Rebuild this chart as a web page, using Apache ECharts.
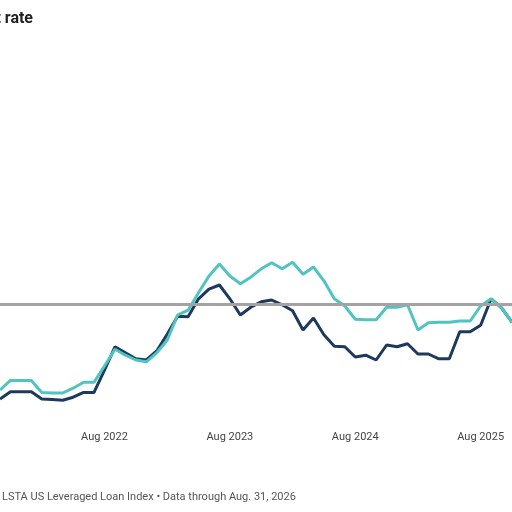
<!DOCTYPE html>
<html>
<head>
<meta charset="utf-8">
<script src="https://cdn.jsdelivr.net/npm/echarts@6/dist/echarts.min.js"></script>
<style>
    html, body { margin: 0; padding: 0; background: #fff; }
    #chart { width: 512px; height: 512px; }
</style>
</head>
<body>
<div id="chart"></div>
<script>
// months shown in the crop (Oct 2021 .. Nov 2025)
const months = [
    'Oct 2021', 'Nov 2021', 'Dec 2021',
    'Jan 2022', 'Feb 2022', 'Mar 2022', 'Apr 2022', 'May 2022', 'Jun 2022',
    'Jul 2022', 'Aug 2022', 'Sep 2022', 'Oct 2022', 'Nov 2022', 'Dec 2022',
    'Jan 2023', 'Feb 2023', 'Mar 2023', 'Apr 2023', 'May 2023', 'Jun 2023',
    'Jul 2023', 'Aug 2023', 'Sep 2023', 'Oct 2023', 'Nov 2023', 'Dec 2023',
    'Jan 2024', 'Feb 2024', 'Mar 2024', 'Apr 2024', 'May 2024', 'Jun 2024',
    'Jul 2024', 'Aug 2024', 'Sep 2024', 'Oct 2024', 'Nov 2024', 'Dec 2024',
    'Jan 2025', 'Feb 2025', 'Mar 2025', 'Apr 2025', 'May 2025', 'Jun 2025',
    'Jul 2025', 'Aug 2025', 'Sep 2025', 'Oct 2025', 'Nov 2025'
];
// dark navy series
const rateA = [
    0.35, 0.47, 0.47,
    0.47, 0.35, 0.34, 0.33, 0.38, 0.46,
    0.46, 0.83, 1.22, 1.12, 1.02, 1.00,
    1.15, 1.43, 1.73, 1.72, 2.02, 2.18,
    2.25, 2.02, 1.75, 1.88, 1.97, 2.00,
    1.92, 1.82, 1.50, 1.70, 1.42, 1.23,
    1.22, 1.05, 1.08, 1.00, 1.25, 1.22,
    1.27, 1.10, 1.10, 1.02, 1.02, 1.47,
    1.47, 1.58, 2.02, 1.87, 1.63
];
// teal series
const rateB = [
    0.50, 0.66, 0.66,
    0.66, 0.46, 0.45, 0.45, 0.53, 0.63,
    0.63, 0.90, 1.18, 1.08, 1.00, 0.97,
    1.12, 1.33, 1.75, 1.83, 2.12, 2.40,
    2.60, 2.40, 2.27, 2.38, 2.52, 2.62,
    2.52, 2.63, 2.43, 2.55, 2.32, 2.02,
    1.90, 1.68, 1.67, 1.67, 1.88, 1.88,
    1.92, 1.50, 1.62, 1.63, 1.63, 1.65,
    1.65, 1.90, 2.02, 1.87, 1.63
];
const avgLine = 1.93; // gray reference line

const fontText = 'Roboto, sans-serif';

let myChart = echarts.init(document.getElementById('chart'));
myChart.setOption({
    animation: false,
    backgroundColor: '#ffffff',
    grid: {
        left: -5.8,
        right: -2.9,
        top: 60,
        bottom: 92
    },
    graphic: [
        {
            type: 'text',
            right: 479,
            top: 11,
            style: {
                text: 'Default rate',
                font: 'bold 16px Roboto, sans-serif',
                fill: '#222222'
            }
        },
        {
            type: 'text',
            left: 2,
            top: 492,
            style: {
                text: 'LSTA US Leveraged Loan Index \u2022 Data through Aug. 31, 2026',
                font: '11px ' + fontText,
                fill: '#555555'
            }
        }
    ],
    xAxis: {
        type: 'category',
        boundaryGap: false,
        data: months,
        axisLine: { show: false },
        axisTick: { show: false },
        splitLine: { show: false },
        axisLabel: {
            interval: function (idx, val) { return val.indexOf('Aug') === 0; },
            margin: 12,
            color: '#444444',
            fontSize: 11,
            fontFamily: fontText
        }
    },
    yAxis: {
        type: 'value',
        min: 0,
        max: 6,
        axisLine: { show: false },
        axisTick: { show: false },
        axisLabel: { show: false },
        splitLine: { show: false }
    },
    series: [
        {
            name: 'A',
            type: 'line',
            data: rateA,
            symbol: 'none',
            lineStyle: { color: '#1d3a5e', width: 3 },
            markLine: {
                silent: true,
                symbol: 'none',
                label: { show: false },
                lineStyle: { color: '#a3a3a3', width: 3, type: 'solid' },
                data: [{ yAxis: avgLine }]
            },
            z: 2
        },
        {
            name: 'B',
            type: 'line',
            data: rateB,
            symbol: 'none',
            lineStyle: { color: '#4fc4c0', width: 3 },
            z: 3
        }
    ]
});
</script>
</body>
</html>
